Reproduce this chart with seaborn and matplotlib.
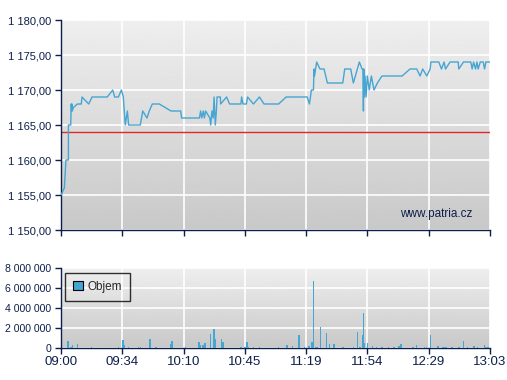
import numpy as np
import pandas as pd
import matplotlib
matplotlib.use("Agg")
import matplotlib.pyplot as plt
import seaborn as sns

# minutes after 09:00 and trade price
price_min = [0, 1.9, 2.8, 4.2, 4.2, 5.5, 5.8, 6.0, 6.2, 6.4, 7.0, 9.3, 11.5, 11.9, 15.7, 17.6,
             26.2, 29.3, 30.4, 32.5, 34.2, 35.3, 36.4, 37.6, 38.3, 44.9, 46.3, 48.7, 50.0,
             51.7, 55.7, 62.3, 67.8, 68.3, 78.4, 79.1, 79.7, 80.6, 81.2, 81.9, 84.3, 84.8,
             85.5, 86.2, 86.7, 87.4, 88.0, 88.4, 90.3, 90.4, 93.8, 95.5, 101.9, 102.3, 103.1,
             105.0, 105.7, 109.0, 112.4, 115.0, 123.3, 127.5, 139.5, 140.7, 141.3, 141.8,
             143.0, 143.3, 143.6, 144.8, 146.7, 149.0, 150.9, 159.6, 160.7, 164.1, 165.6,
             169.0, 170.5, 171.0, 171.3, 171.5, 171.8, 172.2, 172.8, 173.5, 174.6, 175.8,
             177.3, 179.2, 181.8, 193.2, 197.7, 201.5, 203.4, 204.9, 207.2, 209.1, 209.5,
             214.0, 215.5, 217.0, 217.8, 220.4, 225.0, 225.3, 228.0, 232.1, 232.9, 233.7,
             234.8, 235.6, 236.3, 237.5, 239.2, 239.9, 240.7, 243.0]
price = [1155, 1156, 1160, 1160, 1165, 1165, 1168, 1167, 1168, 1167, 1167.5, 1168, 1168, 1169,
         1168, 1169, 1169, 1170, 1169, 1169, 1170, 1169, 1165, 1167, 1165, 1165, 1167, 1166,
         1167, 1168, 1168, 1167, 1167, 1166, 1166, 1167, 1166, 1167, 1166, 1167, 1166, 1165,
         1167, 1166, 1169, 1165, 1167, 1169, 1169, 1168, 1169, 1168, 1168, 1169, 1168,
         1168, 1169, 1168, 1169, 1168, 1168, 1169, 1169, 1168, 1169, 1170,
         1170, 1173, 1172, 1174, 1173, 1173, 1171, 1171, 1173, 1173, 1171,
         1174, 1173, 1173, 1167, 1173, 1169, 1172, 1169, 1172, 1170, 1172,
         1170, 1171, 1172, 1172, 1173, 1173, 1172, 1173, 1172, 1173, 1174,
         1174, 1173, 1174, 1173, 1174, 1174, 1173, 1174, 1174, 1173, 1174,
         1173, 1174, 1173, 1174, 1174, 1173, 1174, 1174]
prev_close = 1164.0

# traded volume (millions)
vol_min = [4.1, 5.5, 6.4, 9.3, 17.2, 32.5, 35.1, 35.9, 38.2, 43.8, 45.0, 50.4, 53.9, 62.3,
           62.9, 70.5, 78.2, 78.9, 80.6, 81.7, 84.6, 86.7, 87.2, 90.8, 91.8, 102.1, 104.2,
           105.5, 106.1, 109.0, 112.4, 123.3, 127.9, 131.2, 134.7, 138.0, 140.3, 140.8,
           142.3, 143.0, 144.6, 145.3, 146.9, 150.5, 152.2, 154.5, 159.6, 165.6, 167.9,
           169.4, 170.7, 171.3, 171.9, 173.5, 176.5, 178.8, 181.7, 185.5, 188.7, 191.3,
           192.5, 199.4, 201.3, 205.8, 207.0, 209.3, 213.5, 216.0, 216.8, 218.1, 221.5,
           225.3, 228.0, 230.2, 233.9, 236.0, 239.8, 240.7, 242.0]
vol_m = [0.73, 0.1, 0.33, 0.43, 0.13, 0.13, 0.83, 0.27, 0.13, 0.13, 0.13, 0.93, 0.13, 0.4,
         0.73, 0.13, 0.63, 0.33, 0.33, 0.53, 1.43, 1.93, 0.93, 0.93, 0.63, 0.13, 0.13,
         0.63, 0.13, 0.13, 0.13, 0.13, 0.33, 0.23, 1.33, 0.13, 0.23, 0.17,
         0.63, 6.73, 0.13, 0.13, 2.13, 1.53, 0.4, 0.43, 0.13, 0.13, 1.63,
         0.13, 1.33, 3.53, 0.47, 0.53, 0.23, 0.13, 0.13, 0.13, 0.13, 0.23,
         0.43, 0.13, 0.33, 0.13, 0.13, 1.33, 0.23, 0.13, 0.13, 0.13, 0.13,
         0.13, 0.73, 0.13, 0.23, 0.13, 0.33, 0.13, 0.13]

time_labels = ["09:00", "09:34", "10:10", "10:45", "11:19", "11:54", "12:29", "13:03"]
price_ticks = [1150, 1155, 1160, 1165, 1170, 1175, 1180]
price_labels = ["1 150,00", "1 155,00", "1 160,00", "1 165,00", "1 170,00", "1 175,00", "1 180,00"]
vol_ticks = [0, 2, 4, 6, 8]
vol_labels = ["0", "2 000 000", "4 000 000", "6 000 000", "8 000 000"]

navy = "#0d1f4a"
line_col = "#45a5d3"

sns.set_style("white")
plt.rcParams["font.family"] = ["Liberation Sans", "DejaVu Sans"]
plt.rcParams["font.size"] = 9

fig = plt.figure(figsize=(5.07, 3.8), dpi=100)
ax = fig.add_axes([61 / 507, 1 - 230 / 380, 429 / 507, 210 / 380])
axv = fig.add_axes([61 / 507, 1 - 348 / 380, 429 / 507, 80 / 380])

grad = np.linspace(0.935, 0.785, 256).reshape(-1, 1)
xt = np.linspace(0, 243, 8)

for a in (ax, axv):
    a.imshow(grad, extent=[0, 1, 0, 1], transform=a.transAxes, aspect="auto",
             cmap="gray", vmin=0, vmax=1, zorder=0, interpolation="bilinear")
    a.set_axisbelow(True)
    a.grid(True, color="white", lw=1.2)
    for s in ("top", "right"):
        a.spines[s].set_visible(False)
    for s in ("left", "bottom"):
        a.spines[s].set_color(navy)
        a.spines[s].set_linewidth(1)
    a.tick_params(direction="out", length=4, width=1, color=navy, labelcolor=navy,
                  left=True, bottom=True, pad=3)
    a.tick_params(axis="x", labelsize=9.5, pad=2)
    a.tick_params(axis="y", labelsize=8)
    a.set_xticks(xt)
    a.set_xlim(0, 243)

df = pd.DataFrame({"t": price_min, "p": price})
sns.lineplot(data=df, x="t", y="p", ax=ax, color=line_col, lw=1, sort=False,
             estimator=None, zorder=3)
ax.axhline(prev_close, color="#e0282a", lw=1, zorder=2)
ax.set_ylim(1150, 1180)
ax.set_yticks(price_ticks)
ax.set_yticklabels(price_labels)
ax.set_xticklabels([])
ax.set_xlabel("")
ax.set_ylabel("")
ax.text(0.96, 0.075, "www.patria.cz", transform=ax.transAxes, ha="right", va="center",
        color=navy, fontsize=8.5)

axv.bar(vol_min, vol_m, width=0.9, color=line_col, edgecolor="none", linewidth=0,
        zorder=3, label="Objem")
axv.set_ylim(0, 8)
axv.set_yticks(vol_ticks)
axv.set_yticklabels(vol_labels)
axv.tick_params(axis="y", labelsize=7.6)
axv.set_xticklabels(time_labels)
leg = axv.legend(loc="upper left", bbox_to_anchor=(4 / 429, 0.94), borderaxespad=0,
                 frameon=True, fancybox=False, handlelength=0.8, handleheight=0.8,
                 borderpad=0.7, handletextpad=0.4, fontsize=8.5)
leg.get_frame().set_edgecolor("black")
leg.get_frame().set_facecolor("none")
leg.get_frame().set_linewidth(1)
leg.legend_handles[0].set_edgecolor("black")
leg.legend_handles[0].set_linewidth(0.8)

fig.savefig("out.png", dpi=100)
